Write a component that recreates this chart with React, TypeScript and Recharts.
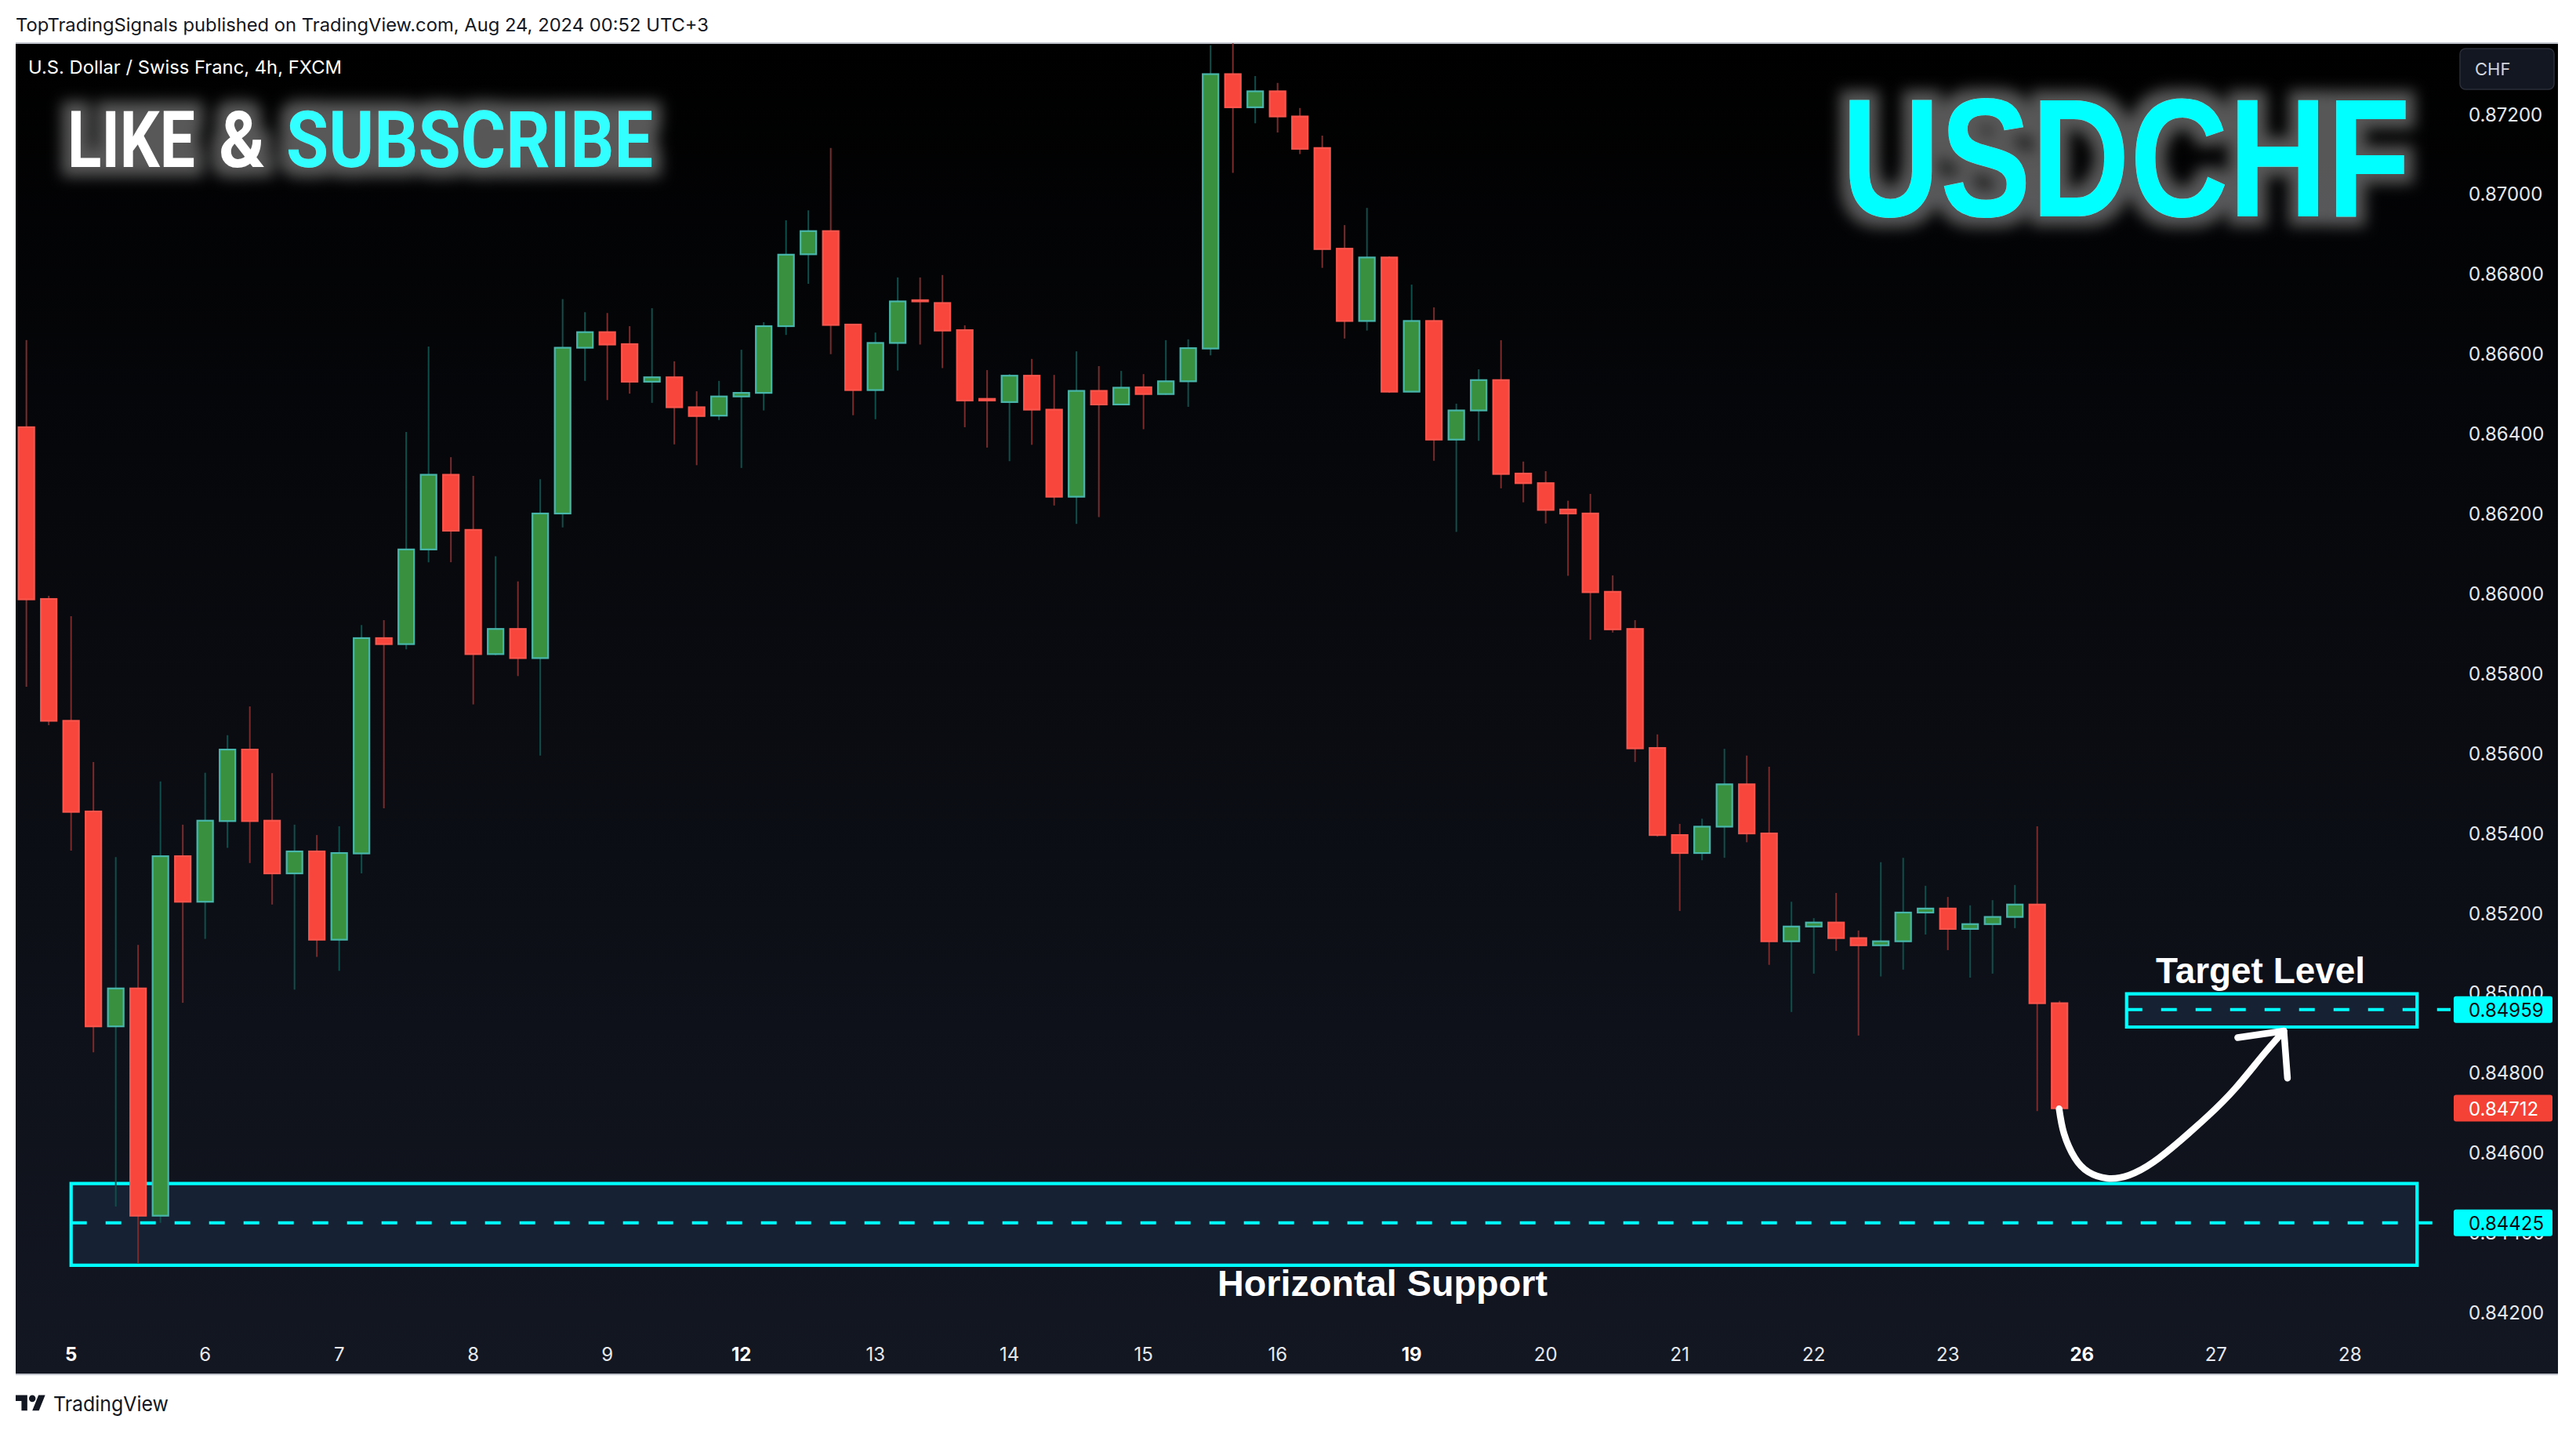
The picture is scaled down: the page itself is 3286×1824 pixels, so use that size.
import { Bar, ComposedChart, Line, ReferenceArea, ReferenceLine, XAxis, YAxis } from "recharts";

// 4h USDCHF candles, index 0 = first bar on the left
const opens = [
  0.86417, 0.85987, 0.85682, 0.85455, 0.84917, 0.85012, 0.84443, 0.85343, 0.85229, 0.85431, 0.8561, 0.85432,
  0.853, 0.85355, 0.85134, 0.8535, 0.85889, 0.85874, 0.86111, 0.86298, 0.8616, 0.85849, 0.85912, 0.85839,
  0.86201, 0.86616, 0.86655, 0.86625, 0.86531, 0.86542, 0.86467, 0.86446, 0.86494, 0.86503, 0.8667, 0.8685,
  0.86908, 0.86674, 0.8651, 0.86628, 0.86735, 0.86728, 0.8666, 0.86488, 0.8648, 0.86546, 0.86461, 0.86243,
  0.86508, 0.86474, 0.86517, 0.865, 0.86532, 0.86614, 0.87301, 0.87218, 0.87258, 0.87195, 0.87116, 0.86864,
  0.86683, 0.86842, 0.86506, 0.86683, 0.86386, 0.86459, 0.86535, 0.86301, 0.86277, 0.86211, 0.86201, 0.86005,
  0.85912, 0.85614, 0.85396, 0.85351, 0.85417, 0.85523, 0.854, 0.8513, 0.85167, 0.85177, 0.85138, 0.8512,
  0.8513, 0.85202, 0.85212, 0.85161, 0.85173, 0.85191, 0.85222, 0.84975,
];
const closes = [
  0.85986, 0.85682, 0.85454, 0.84917, 0.85012, 0.84443, 0.85343, 0.85229, 0.85432, 0.8561, 0.85431, 0.853,
  0.85355, 0.85134, 0.85351, 0.85889, 0.85874, 0.86111, 0.86298, 0.86158, 0.85849, 0.85912, 0.85839, 0.86201,
  0.86616, 0.86655, 0.86624, 0.86531, 0.86542, 0.86467, 0.86445, 0.86494, 0.86503, 0.8667, 0.86849, 0.86908,
  0.86673, 0.8651, 0.86628, 0.86732, 0.86732, 0.86659, 0.86484, 0.86484, 0.86546, 0.86461, 0.86243, 0.86508,
  0.86474, 0.86516, 0.865, 0.86532, 0.86615, 0.87301, 0.87218, 0.87258, 0.87195, 0.87114, 0.86863, 0.86683,
  0.86842, 0.86506, 0.86683, 0.86386, 0.86459, 0.86535, 0.863, 0.86277, 0.8621, 0.86201, 0.86004, 0.85911,
  0.85613, 0.85396, 0.85351, 0.85417, 0.85523, 0.854, 0.8513, 0.85167, 0.85177, 0.85138, 0.8512, 0.8513,
  0.85202, 0.85212, 0.85161, 0.85173, 0.85191, 0.85222, 0.84975, 0.84712,
];
const highs = [
  0.86635, 0.85995, 0.85944, 0.85579, 0.85341, 0.85121, 0.8553, 0.85422, 0.85552, 0.85646, 0.85718, 0.85551,
  0.85422, 0.85396, 0.85418, 0.85922, 0.85934, 0.86405, 0.86619, 0.86342, 0.86295, 0.86094, 0.86031, 0.86287,
  0.86738, 0.86705, 0.86703, 0.8667, 0.86715, 0.86582, 0.86507, 0.86533, 0.86611, 0.8668, 0.86935, 0.8696,
  0.87116, 0.86676, 0.86654, 0.86792, 0.86792, 0.86798, 0.86672, 0.8656, 0.8655, 0.86588, 0.86548, 0.86607,
  0.8657, 0.86558, 0.8655, 0.86635, 0.86637, 0.87373, 0.87378, 0.87296, 0.87279, 0.87216, 0.87147, 0.86923,
  0.86966, 0.86845, 0.86774, 0.86717, 0.86476, 0.86562, 0.86635, 0.86331, 0.86307, 0.86233, 0.8625, 0.86046,
  0.85934, 0.85648, 0.85424, 0.85437, 0.85612, 0.85595, 0.85567, 0.85229, 0.85188, 0.85251, 0.85157, 0.85328,
  0.85339, 0.85269, 0.85241, 0.8522, 0.85233, 0.85271, 0.85418, 0.84981,
];
const lows = [
  0.85767, 0.85671, 0.85357, 0.84852, 0.84466, 0.84323, 0.84425, 0.84976, 0.85136, 0.85364, 0.85326, 0.85222,
  0.85009, 0.85091, 0.85056, 0.853, 0.85463, 0.85861, 0.86079, 0.86079, 0.85723, 0.85846, 0.85794, 0.85595,
  0.86166, 0.86533, 0.86485, 0.86501, 0.86478, 0.86374, 0.86322, 0.86435, 0.86315, 0.86459, 0.86648, 0.86776,
  0.866, 0.86447, 0.86437, 0.86559, 0.86624, 0.86565, 0.86417, 0.86366, 0.86332, 0.86373, 0.86221, 0.86175,
  0.86192, 0.86473, 0.86412, 0.86498, 0.86468, 0.86597, 0.87054, 0.87178, 0.87155, 0.87101, 0.86816, 0.86639,
  0.86659, 0.86503, 0.86505, 0.86333, 0.86155, 0.86383, 0.86264, 0.86229, 0.86176, 0.86045, 0.85885, 0.85903,
  0.85579, 0.85392, 0.85206, 0.85333, 0.85339, 0.85378, 0.85071, 0.84953, 0.85049, 0.85106, 0.84894, 0.85042,
  0.85059, 0.85147, 0.85108, 0.85039, 0.85049, 0.85163, 0.84705, 0.84712,
];

const priceTicks = [
  0.842, 0.844, 0.846, 0.848, 0.85, 0.852, 0.854, 0.856, 0.858, 0.86, 0.862, 0.864, 0.866, 0.868, 0.87, 0.872,
];
const dayTicks = [2, 8, 14, 20, 26, 32, 38, 44, 50, 56, 62, 68, 74, 80, 86, 92, 98, 104];
const dayLabels = ["5", "6", "7", "8", "9", "12", "13", "14", "15", "16", "19", "20", "21", "22", "23", "26", "27", "28"];
const boldDays = ["5", "12", "19", "26"];

// drawn path: bounce off support up to the target box
const pathIndex = [90.98, 91.2, 91.68, 92.29, 93.14, 94.11, 95.2, 96.42, 97.63, 98.85, 100.07, 101.04];
const pathPrice = [
  0.847107, 0.846485, 0.84588, 0.845523, 0.845366, 0.845445, 0.845772, 0.846318, 0.846921, 0.847609, 0.84843,
  0.849056,
];
const headIndex = [98.97, 101.04, 101.2];
const headPrice = [0.848889, 0.849056, 0.847872];

const candles = opens.map((open, i) => ({ i, open, close: closes[i], high: highs[i], low: lows[i] }));
const curve = pathIndex.map((i, k) => ({ i, arrow: pathPrice[k] }));
const head = headIndex.map((i, k) => ({ i, arrow: headPrice[k] }));

const CYAN = "#00ffff";
const AXIS_FONT = "Inter, sans-serif";
const BODY_WIDTH = 20;
const CHART_MARGIN = { top: 54.5, right: 23, bottom: 71, left: 19.45 };
const X_DOMAIN: [number, number] = [-0.5, 108.5];
const Y_DOMAIN: [number, number] = [0.841499, 0.873796];

function Candle(props: any) {
  const { x, y, width, height, payload } = props;
  const { open, close, high, low } = payload;
  const up = close >= open;
  const perUnit = height / (high - low);
  const top = y + (high - Math.max(open, close)) * perUnit;
  const bottom = y + (high - Math.min(open, close)) * perUnit;
  const mid = x + width / 2;
  return (
    <g>
      <line x1={mid} x2={mid} y1={y} y2={y + height} stroke={up ? "#0f4f4b" : "#7a2b2c"} strokeWidth={2} />
      <rect
        x={mid - BODY_WIDTH / 2}
        y={top}
        width={BODY_WIDTH}
        height={Math.max(bottom - top, 1)}
        fill={up ? "#39913f" : "#f8463c"}
        stroke={up ? "#48b6ab" : "#f9554c"}
        strokeWidth={2.2}
      />
    </g>
  );
}

function DayTick({ x, y, payload }: any) {
  const label = dayLabels[dayTicks.indexOf(payload.value)];
  const bold = boldDays.includes(label);
  return (
    <text
      x={x}
      y={y}
      textAnchor="middle"
      dominantBaseline="central"
      fill={bold ? "#ffffff" : "#e6e8ee"}
      fontFamily={AXIS_FONT}
      fontSize={24}
      fontWeight={bold ? 700 : 400}
    >
      {label}
    </text>
  );
}

function PriceTag({ viewBox, text, bg, fg }: any) {
  const left = viewBox.x + viewBox.width + 4;
  return (
    <g>
      <rect x={left} y={viewBox.y - 17} width={126} height={34} rx={3} fill={bg} />
      <text
        x={left + 19}
        y={viewBox.y + 1}
        dominantBaseline="central"
        fill={fg}
        fontFamily={AXIS_FONT}
        fontSize={24}
      >
        {text}
      </text>
    </g>
  );
}

function Overlay() {
  return (
    <svg width={3286} height={1824} style={{ position: "absolute", left: 0, top: 0, pointerEvents: "none" }}>
      <defs>
        <filter id="glow" x="-15%" y="-60%" width="130%" height="220%">
          <feMorphology in="SourceAlpha" operator="dilate" radius="12" />
          <feGaussianBlur stdDeviation="9" result="b" />
          <feFlood floodColor="#ffffff" floodOpacity="0.34" />
          <feComposite in2="b" operator="in" />
          <feMerge>
            <feMergeNode />
            <feMergeNode in="SourceGraphic" />
          </feMerge>
        </filter>
      </defs>

      <text x={20} y={32} dominantBaseline="central" fill="#131722" fontFamily={AXIS_FONT} fontSize={23} textLength={884} lengthAdjust="spacingAndGlyphs">
        TopTradingSignals published on TradingView.com, Aug 24, 2024 00:52 UTC+3
      </text>
      <text x={36} y={86} dominantBaseline="central" fill="#ffffff" fontFamily={AXIS_FONT} fontSize={23} textLength={400} lengthAdjust="spacingAndGlyphs">
        U.S. Dollar / Swiss Franc, 4h, FXCM
      </text>

      <g filter="url(#glow)" fontFamily="Roboto, sans-serif" fontWeight={700} fontSize={100}>
        <text x={86} y={213} fill="#ffffff" textLength={163} lengthAdjust="spacingAndGlyphs">LIKE</text>
        <text x={279} y={213} fill="#ffffff" textLength={59} lengthAdjust="spacingAndGlyphs">&amp;</text>
        <text x={365} y={213} fill="#33ffff" textLength={468} lengthAdjust="spacingAndGlyphs">SUBSCRIBE</text>
      </g>

      <text
        x={2349}
        y={276}
        fill={CYAN}
        filter="url(#glow)"
        fontFamily="'Liberation Sans', sans-serif"
        fontWeight={700}
        fontSize={216}
        textLength={726}
        lengthAdjust="spacingAndGlyphs"
      >
        USDCHF
      </text>

      <text x={2750} y={1238} dominantBaseline="central" fill="#ffffff" fontFamily="'Liberation Sans', sans-serif" fontWeight={700} fontSize={46} textLength={267} lengthAdjust="spacingAndGlyphs">
        Target Level
      </text>
      <text x={1553} y={1637} dominantBaseline="central" fill="#ffffff" fontFamily="'Liberation Sans', sans-serif" fontWeight={700} fontSize={46} textLength={421} lengthAdjust="spacingAndGlyphs">
        Horizontal Support
      </text>

      <rect x={3138} y={62} width={120} height={52} rx={7} fill="#131722" stroke="#2a2e39" strokeWidth={1.5} />
      <text x={3157} y={88} dominantBaseline="central" fill="#d1d4dc" fontFamily={AXIS_FONT} fontSize={22}>
        CHF
      </text>

      <g transform="translate(20 1775) scale(1.06 1.1)" fill="#131722">
        <path d="M14 22H7V11H0V4h14v18zM28 22h-8l7.5-18h8L28 22z" />
        <circle cx="20" cy="8" r="4" />
      </g>
      <text x={68} y={1790} dominantBaseline="central" fill="#131722" fontFamily={AXIS_FONT} fontSize={26} textLength={147} lengthAdjust="spacingAndGlyphs">
        TradingView
      </text>
    </svg>
  );
}

// same axes as the main chart, no ticks: keeps the price tags above the tick labels
function TagLayer() {
  return (
    <div style={{ position: "absolute", left: 0, top: 0 }}>
      <ComposedChart width={3286} height={1824} data={candles} margin={CHART_MARGIN}>
        <XAxis dataKey="i" type="number" domain={X_DOMAIN} ticks={dayTicks} height={53} axisLine={false} tickLine={false} tick={false} />
        <YAxis orientation="right" domain={Y_DOMAIN} allowDataOverflow ticks={priceTicks} width={137} axisLine={false} tickLine={false} tick={false} />
        <ReferenceLine y={0.84959} stroke="none" label={(p: any) => <PriceTag {...p} text="0.84959" bg={CYAN} fg="#0a0c10" />} />
        <ReferenceLine y={0.84425} stroke="none" label={(p: any) => <PriceTag {...p} text="0.84425" bg={CYAN} fg="#0a0c10" />} />
        <ReferenceLine y={0.84712} stroke="none" label={(p: any) => <PriceTag {...p} text="0.84712" bg="#f44336" fg="#ffffff" />} />
      </ComposedChart>
    </div>
  );
}

export default function App() {
  return (
    <div style={{ position: "absolute", left: 0, top: 0, width: 3286, height: 1824, background: "#ffffff", overflow: "hidden" }}>
      <div
        style={{
          position: "absolute",
          left: 20,
          top: 54,
          width: 3243,
          height: 1700,
          background: "linear-gradient(180deg, #000000 0%, #131722 100%)",
          borderTop: "2px solid #c0c3cb",
          borderBottom: "2px solid #c0c3cb",
          boxSizing: "border-box",
        }}
      />
      <div style={{ position: "absolute", left: 0, top: 0 }}>
        <ComposedChart width={3286} height={1824} data={candles} margin={CHART_MARGIN}>
          <ReferenceArea x1={2} x2={107} y1={0.843191} y2={0.845237} fill="#162233" fillOpacity={1} stroke={CYAN} strokeWidth={4.2} />
          <ReferenceArea x1={94} x2={107} y1={0.849154} y2={0.849985} fill="#162233" fillOpacity={1} stroke={CYAN} strokeWidth={4.2} />
          <ReferenceLine
            segment={[{ x: 2, y: 0.84425 }, { x: 108.5, y: 0.84425 }]}
            stroke={CYAN}
            strokeWidth={4}
            strokeDasharray="20 24"
          />
          <ReferenceLine
            segment={[{ x: 94, y: 0.84959 }, { x: 108.5, y: 0.84959 }]}
            stroke={CYAN}
            strokeWidth={4}
            strokeDasharray="20 24"
          />
          <XAxis
            dataKey="i"
            type="number"
            domain={X_DOMAIN}
            ticks={dayTicks}
            interval={0}
            height={53}
            axisLine={false}
            tickLine={false}
            tickSize={0}
            tickMargin={0}
            tick={(p: any) => <DayTick {...p} y={1727.5} />}
          />
          <YAxis
            orientation="right"
            domain={Y_DOMAIN}
            allowDataOverflow
            ticks={priceTicks}
            interval={0}
            width={137}
            axisLine={false}
            tickLine={false}
            tickSize={0}
            tickMargin={23}
            tickFormatter={(v: number) => v.toFixed(5)}
            tick={{ fill: "#e6e8ee", fontSize: 24, fontFamily: AXIS_FONT }}
          />
          <Bar dataKey={(d: any) => [d.low, d.high]} barSize={21} shape={Candle} isAnimationActive={false} />
          <Line
            data={curve}
            dataKey="arrow"
            type="natural"
            stroke="#ffffff"
            strokeWidth={8.5}
            strokeLinecap="round"
            dot={false}
            activeDot={false}
            legendType="none"
            isAnimationActive={false}
          />
          <Line
            data={head}
            dataKey="arrow"
            type="linear"
            stroke="#ffffff"
            strokeWidth={8.5}
            strokeLinecap="round"
            strokeLinejoin="round"
            dot={false}
            activeDot={false}
            legendType="none"
            isAnimationActive={false}
          />
        </ComposedChart>
      </div>
      <TagLayer />
      <Overlay />
    </div>
  );
}
